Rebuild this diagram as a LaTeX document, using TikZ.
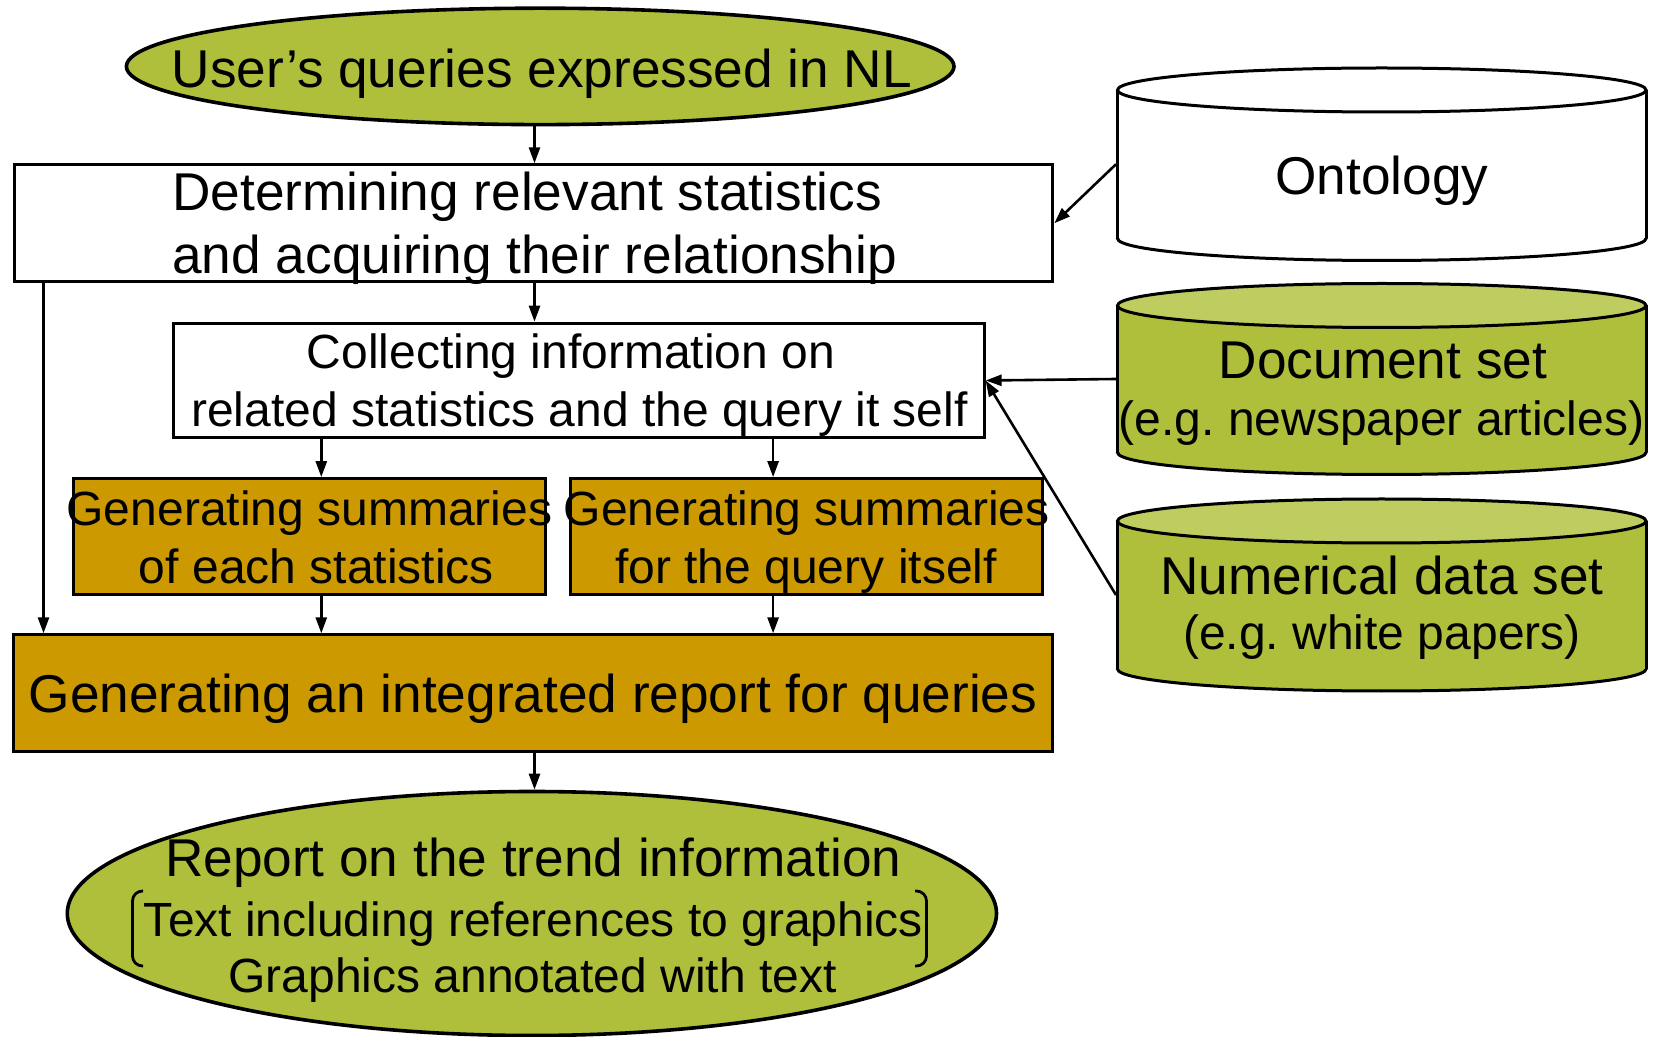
\documentclass[tikz,border=0pt]{standalone}
\usepackage{fontspec}
\setmainfont{Liberation Sans}
\usetikzlibrary{arrows.meta,shapes.geometric}
\definecolor{olivefill}{HTML}{AFBF3B}
\definecolor{olivetop}{HTML}{BFCD60}
\definecolor{orangefill}{HTML}{CC9900}
\newcommand\fbig{\fontsize{26.6pt}{30pt}\selectfont}
\newcommand\fsmall{\fontsize{24pt}{28pt}\selectfont}
\newcommand\dbcyl[7]{%
  \pgfmathsetmacro\cylcx{(#2+#4)/2}%
  \pgfmathsetmacro\cylrx{(#4-#2)/2}%
  \pgfmathsetmacro\cylw{(#4-#2)/2+1.5}%
  \pgfmathsetmacro\cylh{(#5-#3)/2+1.5}%
  \draw[cylline, fill=#6] ({\cylcx},{#5-22}) ellipse [x radius=\cylrx, y radius=22];
  \fill[#6] (#2,{#3+22}) rectangle (#4,{#5-22});
  \draw[cylline] (#2,{#3+22}) -- (#2,{#5-22}) (#4,{#3+22}) -- (#4,{#5-22});
  \draw[cylline, fill=#7] ({\cylcx},{#3+22}) ellipse [x radius=\cylrx, y radius=22];
  \node[inner sep=0pt, outer sep=0pt, minimum width=\cylw pt, minimum height=\cylh pt] (#1) at ({\cylcx},{(#3+#5)/2}) {};
}
\begin{document}
\frenchspacing
\begin{tikzpicture}[x=0.5pt,y=-0.5pt,
  box/.style={draw, line width=1.5pt, rectangle, inner sep=0pt},
  widebox/.style={box, minimum width=519.4pt, minimum height=58.5pt},
  midbox/.style={box, minimum width=236pt, minimum height=58pt, fill=orangefill},
  startend/.style={ellipse, draw, line width=1.8pt, fill=olivefill, inner sep=0pt},
  cylline/.style={line width=1.5pt},
  txt/.style={inner sep=0pt, anchor=base},
  arr/.style={line width=1.3pt, -{Triangle[length=8pt,width=5.5pt]}},
  bracketline/.style={line width=1.4pt, rounded corners=5pt}]
\useasboundingbox (0,0) rectangle (1656,1037);

% flow nodes
\node[startend, minimum width=413.8pt, minimum height=58.2pt] (top) at (540.2,66.4) {};
\node[widebox, fill=white] (b1) at (533.4,223.3) {};
\node[box, fill=white, minimum width=405.4pt, minimum height=57.3pt] (b2) at (578.75,380.5) {};
\node[midbox] (b3) at (309.75,536.65) {};
\node[midbox] (b4) at (806.7,536.65) {};
\node[widebox, fill=orangefill] (b5) at (533.2,693.35) {};
\node[startend, minimum width=464.6pt, minimum height=122pt] (bot) at (531.9,913.5) {};

% texts
\node[txt, font=\fbig] (toptext) at (542,87.3) {User’s queries expressed in NL};
\node[txt, anchor=base west, font=\fbig] (b1a) at (172,210.7) {Determining relevant statistics};
\node[txt, anchor=base west, font=\fbig] (b1b) at (172,274) {and acquiring their relationship};
\node[txt, font=\fsmall] (b2a) at (571,368.3) {Collecting information on};
\node[txt, font=\fsmall] (b2b) at (579.5,426.7) {related statistics and the query it self};
\node[txt, font=\fsmall] (b3a) at (309.4,526) {Generating summaries};
\node[txt, font=\fsmall] (b3b) at (316.4,583.3) {of each statistics};
\node[txt, font=\fsmall] (b4a) at (806.7,526) {Generating summaries};
\node[txt, font=\fsmall] (b4b) at (806,583.3) {for the query itself};
\node[txt, font=\fbig] (b5a) at (533.1,712.7) {Generating an integrated report for queries};
\node[txt, font=\fbig] (bota) at (533.2,876.7) {Report on the trend information};
\node[txt, font=\fsmall] (botb) at (533.5,936.7) {Text including references to graphics};
\node[txt, font=\fsmall] (botc) at (532.5,992) {Graphics annotated with text};
\draw[bracketline] (143,891) -- (132.5,891) -- (132.5,966) -- (143,966);
\draw[bracketline] (915,891) -- (926.5,891) -- (926.5,966) -- (915,966);

% data stores
\dbcyl{ont}{1117.5}{68}{1646}{260.5}{white}{white}
\dbcyl{doc}{1117.5}{283.5}{1646}{474.5}{olivefill}{olivetop}
\dbcyl{num}{1117.5}{499}{1646}{691}{olivefill}{olivetop}
\node[txt, font=\fbig] (onttext) at (1382,194.8) {Ontology};
\node[txt, font=\fbig] (doca) at (1383,378.6) {Document set};
\node[txt, font=\fsmall] (docb) at (1381.5,435.2) {(e.g. newspaper articles)};
\node[txt, font=\fbig] (numa) at (1382,594.3) {Numerical data set};
\node[txt, font=\fsmall] (numb) at (1382,649.2) {(e.g. white papers)};

% connectors
\coordinate (xa) at (43.5,0);
\coordinate (xb) at (321.3,0);
\coordinate (xc) at (773.1,0);
\coordinate (xm) at (534.5,0);
\draw[arr] (top.south -| xm) -- (b1.north -| xm);
\draw[arr] (b1.south -| xm) -- (b2.north -| xm);
\draw[arr] (b2.south -| xb) -- (b3.north -| xb);
\draw[arr] (b2.south -| xc) -- (b4.north -| xc);
\draw[arr] (b3.south -| xb) -- (b5.north -| xb);
\draw[arr] (b4.south -| xc) -- (b5.north -| xc);
\draw[arr] (b1.south -| xa) -- (b5.north -| xa);
\draw[arr] (b5.south -| xm) -- (bot.north -| xm);
\draw[arr] (ont.west) -- (b1.east);
\draw[arr] (doc.west) -- (b2.east);
\draw[arr] (num.west) -- (b2.east);
\end{tikzpicture}
\end{document}
